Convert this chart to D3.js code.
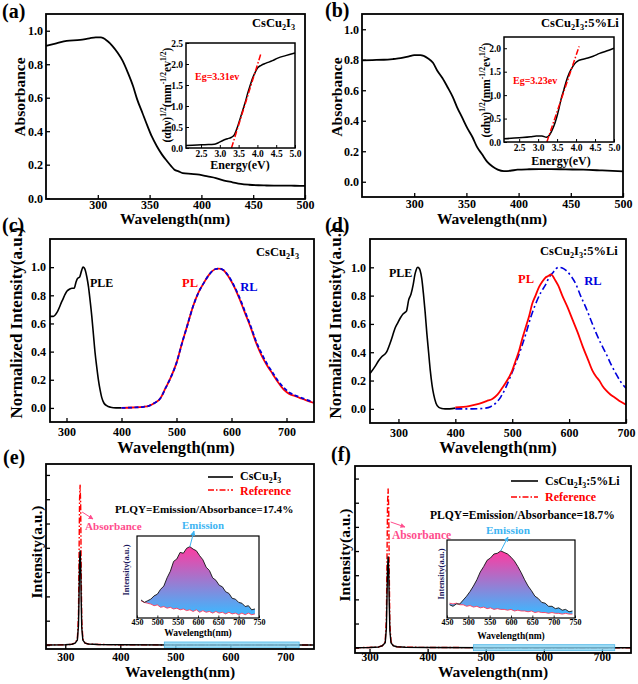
<!DOCTYPE html>
<html><head><meta charset="utf-8">
<script src="https://cdn.jsdelivr.net/npm/d3@7"></script>
<style>
body{margin:0;background:#fff}
text{font-family:"Liberation Serif","Times New Roman",serif;font-weight:bold}
</style>
</head><body><script>
// ---------- DATA ----------
// (a) absorbance CsCu2I3
const aWl  = [250,260,270,283,292,298,303,309,314,319,324,329,334,338,343,348,352,357,362,367,371,374,378,382,390,398,406,414,422,430,438,446,455,461,470,480,490,500];
const aAbs = [0.91,0.925,0.94,0.945,0.955,0.96,0.96,0.94,0.91,0.87,0.82,0.75,0.67,0.59,0.51,0.43,0.37,0.31,0.26,0.22,0.19,0.17,0.16,0.15,0.145,0.14,0.13,0.12,0.105,0.095,0.085,0.08,0.077,0.076,0.075,0.075,0.074,0.073];
const aInsE = [2.1,2.4,2.6,2.85,2.95,3.08,3.2,3.3,3.39,3.47,3.54,3.61,3.68,3.74,3.81,3.87,3.94,4.0,4.1,4.23,4.4,4.54,4.75,5.0];
const aInsV = [0.06,0.07,0.08,0.09,0.12,0.18,0.22,0.25,0.32,0.5,0.7,0.9,1.1,1.3,1.5,1.66,1.8,1.9,1.97,2.02,2.08,2.14,2.2,2.26];
const aFitE = [3.31,4.09];
const aFitV = [0,2.24];
// (b) absorbance CsCu2I3:5%Li
const bWl  = [250,260,271,280,287,295,300,306,313,318,322,327,332,337,341,346,351,356,360,365,370,375,380,386,392,399,410,420,431,445,462,480,500];
const bAbs = [0.796,0.798,0.80,0.805,0.81,0.822,0.83,0.83,0.81,0.78,0.73,0.68,0.62,0.555,0.49,0.42,0.35,0.29,0.23,0.18,0.13,0.1,0.08,0.07,0.072,0.079,0.082,0.083,0.083,0.081,0.079,0.074,0.068];
const bInsE = [2.1,2.5,2.8,2.95,3.1,3.22,3.3,3.35,3.42,3.48,3.55,3.61,3.68,3.74,3.82,3.92,4.0,4.05,4.15,4.31,4.45,4.62,4.8,5.0];
const bInsV = [0.07,0.09,0.11,0.13,0.13,0.1,0.15,0.22,0.35,0.5,0.72,0.93,1.12,1.29,1.47,1.62,1.7,1.73,1.76,1.79,1.83,1.89,1.94,2.0];
const bFitE = [3.23,4.08];
const bFitV = [0,2.04];
// (c) PLE / PL / RL CsCu2I3
const cPLEwl = [270,276,283,292,301,306,310,314,317,320,324,327,330,332,334,337,340,343,346,349,352,355,358,361,364,368,373,380,390,400];
const cPLE   = [0.65,0.65,0.68,0.76,0.83,0.845,0.85,0.85,0.89,0.92,0.93,0.97,1.0,0.995,0.98,0.93,0.86,0.76,0.65,0.52,0.39,0.29,0.2,0.13,0.075,0.035,0.016,0.005,0.0,0.0];
const cPLwl  = [400,420,440,450,460,470,480,490,500,510,520,530,540,550,560,570,577,585,595,605,615,625,635,645,655,665,675,685,695,705,715,725,735,750];
const cPL    = [0.0,0.003,0.008,0.015,0.035,0.065,0.14,0.22,0.32,0.46,0.59,0.72,0.82,0.89,0.95,0.985,0.99,0.98,0.93,0.86,0.77,0.67,0.57,0.46,0.37,0.30,0.24,0.18,0.13,0.10,0.085,0.07,0.055,0.035];
const cRL    = [0.0,0.003,0.008,0.015,0.035,0.065,0.14,0.22,0.32,0.46,0.59,0.72,0.82,0.89,0.95,0.985,0.99,0.98,0.935,0.865,0.78,0.68,0.58,0.47,0.385,0.31,0.25,0.19,0.145,0.11,0.09,0.075,0.06,0.04];
// (d) PLE / PL / RL CsCu2I3:5%Li
const dPLEwl = [250,259,265,271,279,285,290,294,299,303,308,311,314,318,322,326,329,331,334,336,338,341,344,347,350,353,356,359,362,366,371,376,382,390,400];
const dPLE   = [0.25,0.3,0.34,0.37,0.40,0.46,0.52,0.57,0.61,0.64,0.67,0.68,0.69,0.77,0.81,0.88,0.95,0.98,1.0,0.995,0.98,0.92,0.81,0.68,0.53,0.40,0.27,0.17,0.10,0.04,0.01,0.003,0.0,0.0,0.005];
const dPLwl  = [400,424,441,455,465,474,482,491,500,506,512,518,524,530,535,541,547,553,559,564,568,571,574,581,588,597,606,615,624,633,641,647,653,659,665,673,682,691,700];
const dPL    = [0.01,0.02,0.035,0.055,0.07,0.1,0.145,0.2,0.27,0.34,0.41,0.5,0.58,0.66,0.74,0.8,0.86,0.9,0.93,0.94,0.95,0.94,0.92,0.87,0.8,0.72,0.63,0.54,0.44,0.35,0.27,0.23,0.2,0.16,0.13,0.1,0.075,0.05,0.03];
const dRLwl  = [400,430,453,462,471,480,488,497,506,515,524,532,541,550,559,565,571,577,582,588,594,603,612,620,629,638,647,656,665,673,682,691,700];
const dRL    = [0.0,0.0,0.005,0.015,0.04,0.085,0.145,0.23,0.32,0.42,0.53,0.64,0.74,0.82,0.88,0.93,0.96,0.99,1.0,0.995,0.98,0.94,0.88,0.8,0.72,0.63,0.54,0.46,0.39,0.32,0.25,0.19,0.145];
// (e) PLQY CsCu2I3
const eWl     = [265,300,312,318,322,324,325,326,327,328,329,330,332,336,342,360,400,500,600,752];
const eSample = [0,0.01,0.03,0.08,0.2,0.8,2.0,3.4,3.87,3.3,1.8,0.7,0.2,0.08,0.04,0.02,0.01,0,0,0];
const eRef    = [0,0.01,0.03,0.08,0.25,1.2,3.5,6.0,6.58,5.8,3.0,1.0,0.25,0.08,0.04,0.02,0.01,0,0,0];
const eInsWl  = [460,468,476,484,492,500,508,516,524,532,540,548,556,564,572,580,588,596,604,612,620,628,636,644,652,660,668,676,684,692,700,708,716,724,732,740];
const eInsEm  = [22,19,21,23,27,29,35,39,49,57,69,72,80,79,85,87,84,82,76,71,62,58,49,46,40,38,32,30,24,23,19,18,14,15,10,11];
const eInsRef = [21,19,18,17,15,16,13,14,12,13,11,12,10,11,9,10,8,10,7,9,7,8,6,8,6,7,5,7,5,6,4,6,4,6,4,5];
// (f) PLQY CsCu2I3:5%Li
const fWl     = [275,300,316,322,327,329,330,331,332,333,334,335,337,341,347,362,400,500,600,750];
const fSample = [0,0.01,0.03,0.08,0.2,0.8,2.0,3.3,3.76,3.2,1.8,0.7,0.2,0.08,0.04,0.02,0.01,0,0,0];
const fRef    = [0,0.01,0.03,0.08,0.25,1.2,3.5,6.0,6.57,5.8,3.0,1.0,0.25,0.08,0.04,0.02,0.01,0,0,0];
const fInsWl  = [456,464,472,480,488,496,504,512,520,528,536,544,552,560,568,576,584,592,600,608,616,624,632,640,648,656,664,672,680,688,696,704,712,720,728,736,744];
const fInsEm  = [17,15,18,18,23,28,34,41,49,59,66,74,77,82,83,86,84,82,78,73,66,58,49,41,35,28,25,20,19,15,15,12,13,10,11,8,9];
const fInsRef = [19,18,19,17,17,15,16,14,15,13,14,12,13,11,12,11,11,10,11,9,10,9,9,8,9,7,8,7,7,6,7,6,6,5,6,5,5];
// emission band (nm)
const bandE = [480,725];
const bandF = [479,722];
// tick values
const absXT = [300,350,400,450,500];
const absYT = [0,0.2,0.4,0.6,0.8,1.0];
const insXT = [2.5,3.0,3.5,4.0,4.5,5.0];
const insAYT = [0,0.5,1.0,1.5,2.0,2.5];
const insBYT = [0,0.5,1.0,1.5,2.0];
const plXT = [300,400,500,600,700];
const plYT = [0,0.2,0.4,0.6,0.8,1.0];
const qyYT = [0,1,2,3,4,5,6,7];
const qyInsXT = [450,500,550,600,650,700,750];

// ---------- DRAW ----------
const svg = d3.select("body").append("svg").attr("width",638).attr("height",684);
const defs = svg.append("defs");
function marker(id,color){
  defs.append("marker").attr("id",id).attr("viewBox","0 0 10 10").attr("refX",9).attr("refY",5)
    .attr("markerWidth",5).attr("markerHeight",5).attr("orient","auto")
    .append("path").attr("d","M0,0L10,5L0,10z").attr("fill",color);
}
marker("arPink","#ff4d8d"); marker("arBlue","#3db4f2");
function grad(id){
  const g = defs.append("linearGradient").attr("id",id).attr("x1",0).attr("y1",0).attr("x2",0).attr("y2",1);
  g.append("stop").attr("offset","0%").attr("stop-color","#ff3aa0");
  g.append("stop").attr("offset","100%").attr("stop-color","#3cb8ff");
}
grad("gE"); grad("gF");

function panel(box,xd,yd,o){
  const x = d3.scaleLinear().domain(xd).range([box.l,box.r]);
  const y = d3.scaleLinear().domain(yd).range([box.b,box.t]);
  const g = svg.append("g");
  if(o.bg) g.append("rect").attr("x",box.l).attr("y",box.t).attr("width",box.r-box.l).attr("height",box.b-box.t).attr("fill","#fff");
  const gx = g.append("g").attr("transform",`translate(0,${box.b})`)
    .call(d3.axisBottom(x).tickValues(o.xt).tickSize(-o.ts).tickPadding(o.xpad).tickFormat(o.xf));
  const gy = g.append("g").attr("transform",`translate(${box.l},0)`)
    .call(d3.axisLeft(y).tickValues(o.yt).tickSize(-o.ts).tickPadding(o.ypad).tickFormat(o.yf));
  [gx,gy].forEach(a=>{a.select(".domain").remove(); a.attr("font-size",o.fs); a.selectAll("line").attr("stroke-width",o.tw||1.3);});
  const plot = g.append("g");
  const fr = ()=> g.append("rect").attr("x",box.l).attr("y",box.t).attr("width",box.r-box.l).attr("height",box.b-box.t)
      .attr("fill","none").attr("stroke","#000").attr("stroke-width",o.fw||1.8);
  return {x,y,g,plot,fr};
}
function curve(p,xs,ys,color,w,dash,smooth){
  const ln = d3.line().x(d=>p.x(d[0])).y(d=>p.y(d[1])).curve(smooth===false?d3.curveLinear:d3.curveMonotoneX);
  const path = p.plot.append("path").datum(d3.zip(xs,ys)).attr("d",ln).attr("fill","none")
    .attr("stroke",color).attr("stroke-width",w).attr("stroke-linejoin","round");
  if(dash) path.attr("stroke-dasharray",dash);
  return path;
}
function rich(x,y,parts,fs,opt={}){
  const t = svg.append("text").attr("x",x).attr("y",y).attr("font-size",fs);
  if(opt.anchor) t.attr("text-anchor",opt.anchor);
  if(opt.fill) t.attr("fill",opt.fill);
  if(opt.rot) t.attr("transform",`rotate(-90,${x},${y})`);
  let cur=0;
  parts.forEach(p=>{
    const s = typeof p==="string"?{t:p}:p;
    let sh=0,sz=fs;
    if(s.sub){sh=fs*0.22;sz=fs*0.66;}
    if(s.sup){sh=-fs*0.4;sz=fs*0.66;}
    t.append("tspan").attr("dy",sh-cur).attr("font-size",sz).text(s.t);
    cur=sh;
  });
  return t;
}
const f1 = d3.format(".1f"), fd = d3.format("d");
const CS = ["CsCu",{t:"2",sub:1},"I",{t:"3",sub:1}];
const CSLI = ["CsCu",{t:"2",sub:1},"I",{t:"3",sub:1},":5%Li"];
const YINS = ["(αhν)",{t:"1/2",sup:1},"(mm",{t:"-1/2",sup:1},"ev",{t:"1/2",sup:1},")"];

// ===== (a) =====
let A = panel({l:46,r:305,t:14,b:199},[250,500],[-0.005,1.1],{xt:absXT,yt:absYT,ts:4,xpad:1,ypad:3,xf:fd,yf:f1,fs:12});
curve(A,aWl,aAbs,"#000",1.8);
A.fr();
let AI = panel({l:186,r:295,t:43,b:148},[2.1,5.0],[0,2.5],{xt:insXT,yt:insAYT,ts:3,xpad:2,ypad:3,xf:f1,yf:f1,fs:9.5,bg:1,fw:1.5,tw:1});
curve(AI,aInsE,aInsV,"#000",1.5);
curve(AI,aFitE,aFitV,"#ff0000",1.5,"6,2,1.5,2",false);
AI.fr();
svg.append("text").attr("x",2).attr("y",18).attr("font-size",20).text("(a)");
rich(252,27,CS,12.5);
svg.append("text").attr("x",195).attr("y",80).attr("font-size",10).attr("fill","#ff0000").text("Eg=3.31ev");
svg.append("text").attr("x",240).attr("y",169).attr("font-size",12).attr("text-anchor","middle").text("Energy(eV)");
rich(171,95,YINS,11.5,{anchor:"middle",rot:1});
svg.append("text").attr("x",25).attr("y",97).attr("font-size",15.5).attr("text-anchor","middle").attr("transform","rotate(-90,25,97)").text("Absorbance");
svg.append("text").attr("x",175).attr("y",224).attr("font-size",15.5).attr("text-anchor","middle").text("Wavelength(nm)");

// ===== (b) =====
let B = panel({l:362,r:623,t:14,b:197},[250,500],[-0.1,1.1],{xt:absXT,yt:absYT,ts:4,xpad:2.5,ypad:3,xf:fd,yf:f1,fs:12});
curve(B,bWl,bAbs,"#000",1.8);
B.fr();
let BI = panel({l:504,r:614,t:37,b:142},[2.1,5.0],[0,2.24],{xt:insXT,yt:insBYT,ts:3,xpad:2.5,ypad:3,xf:f1,yf:f1,fs:9.5,bg:1,fw:1.5,tw:1});
curve(BI,bInsE,bInsV,"#000",1.5);
curve(BI,bFitE,bFitV,"#ff0000",1.5,"6,2,1.5,2",false);
BI.fr();
svg.append("text").attr("x",325).attr("y",17).attr("font-size",20).text("(b)");
rich(541,27,CSLI,12.5);
svg.append("text").attr("x",513).attr("y",84).attr("font-size",10).attr("fill","#ff0000").text("Eg=3.23ev");
svg.append("text").attr("x",561).attr("y",165).attr("font-size",12).attr("text-anchor","middle").text("Energy(eV)");
rich(490,90,YINS,11.5,{anchor:"middle",rot:1});
svg.append("text").attr("x",342).attr("y",97).attr("font-size",15.5).attr("text-anchor","middle").attr("transform","rotate(-90,342,97)").text("Absorbance");
svg.append("text").attr("x",492).attr("y",224).attr("font-size",15.5).attr("text-anchor","middle").text("Wavelength(nm)");

// ===== (c) =====
let C = panel({l:50,r:314,t:239,b:422},[270,750],[-0.1,1.2],{xt:plXT,yt:plYT,ts:4,xpad:5,ypad:4,xf:fd,yf:f1,fs:12});
curve(C,cPLEwl,cPLE,"#000",1.6);
curve(C,cPLwl,cPL,"#ff0000",1.8);
curve(C,cPLwl,cRL,"#0000dd",1.8,"4,2.5");
C.fr();
svg.append("text").attr("x",2).attr("y",232).attr("font-size",20).text("(c)");
rich(256,256,CS,12.5);
svg.append("text").attr("x",90).attr("y",287).attr("font-size",12).text("PLE");
svg.append("text").attr("x",190).attr("y",287).attr("font-size",12.5).attr("text-anchor","middle").attr("fill","#ff0000").text("PL");
svg.append("text").attr("x",249).attr("y",291).attr("font-size",12.5).attr("text-anchor","middle").attr("fill","#0000dd").text("RL");
svg.append("text").attr("x",22).attr("y",323).attr("font-size",17).attr("text-anchor","middle").attr("transform","rotate(-90,22,323)").text("Normalized Intensity(a.u.)");
svg.append("text").attr("x",176).attr("y",453).attr("font-size",16.5).attr("text-anchor","middle").text("Wavelength(nm)");

// ===== (d) =====
let D = panel({l:370,r:626,t:239,b:423},[250,700],[-0.1,1.2],{xt:plXT,yt:plYT,ts:4,xpad:5,ypad:4,xf:fd,yf:f1,fs:12});
curve(D,dPLEwl,dPLE,"#000",1.6);
curve(D,dRLwl,dRL,"#0000dd",1.6,"7,3,2,3");
curve(D,dPLwl,dPL,"#ff0000",1.8);
D.fr();
svg.append("text").attr("x",325).attr("y",232).attr("font-size",20).text("(d)");
rich(540,255,CSLI,12.5);
svg.append("text").attr("x",389).attr("y",277).attr("font-size",12).text("PLE");
svg.append("text").attr("x",526).attr("y",283).attr("font-size",12.5).attr("text-anchor","middle").attr("fill","#ff0000").text("PL");
svg.append("text").attr("x",593).attr("y",285).attr("font-size",12.5).attr("text-anchor","middle").attr("fill","#0000dd").text("RL");
svg.append("text").attr("x",341).attr("y",323).attr("font-size",17).attr("text-anchor","middle").attr("transform","rotate(-90,341,323)").text("Normalized Intensity(a.u.)");
svg.append("text").attr("x",498).attr("y",453).attr("font-size",16.5).attr("text-anchor","middle").text("Wavelength(nm)");

// ===== (e) / (f) =====
function qy(box,xd,yd,wl,sam,ref,band,pad,ins,insData,gid){
  const P = panel(box,xd,yd,{xt:plXT,yt:qyYT,ts:4,xpad:pad,ypad:3,xf:fd,yf:()=>"",fs:11.5});
  curve(P,wl,ref,"#ff0000",1.4,"6,2,1.5,2",false);
  curve(P,wl,sam,"#000",1.4,null,false);
  P.plot.append("rect").attr("x",P.x(band[0])).attr("y",P.y(0)-3).attr("width",P.x(band[1])-P.x(band[0])).attr("height",6)
    .attr("fill","#86d3f3").attr("fill-opacity",0.8).attr("stroke","#4fb8e8").attr("stroke-width",0.8);
  P.fr();
  const I = panel(ins,[450,750],[0,100],{xt:qyInsXT,yt:[],ts:2.5,xpad:1.5,ypad:2,xf:fd,yf:()=>"",fs:8,bg:1,fw:1.2,tw:0.8});
  const [iw,iem,iref] = insData;
  const area = d3.area().x(d=>I.x(d[0])).y0(d=>I.y(d[2])).y1(d=>I.y(d[1]));
  I.plot.append("path").datum(d3.zip(iw,iem,iref)).attr("d",area).attr("fill",`url(#${gid})`);
  curve(I,iw,iref,"#ff3b5c",0.9,null,false);
  curve(I,iw,iem,"#111",0.9,null,false);
  I.fr();
  return {P,I};
}
const E = qy({l:46,r:314,t:464,b:649},[265,752],[-0.165,7.45],eWl,eSample,eRef,bandE,3.5,{l:137,r:259,t:536,b:618},[eInsWl,eInsEm,eInsRef],"gE");
const F = qy({l:355,r:631,t:466,b:653},[275,750],[-0.22,7.52],fWl,fSample,fRef,bandF,0,{l:447,r:575,t:540,b:618},[fInsWl,fInsEm,fInsRef],"gF");

// (e) labels
svg.append("text").attr("x",3).attr("y",464).attr("font-size",20).text("(e)");
svg.append("line").attr("x1",208).attr("x2",233).attr("y1",477).attr("y2",477).attr("stroke","#000").attr("stroke-width",1.6);
svg.append("line").attr("x1",208).attr("x2",233).attr("y1",490).attr("y2",490).attr("stroke","#ff0000").attr("stroke-width",1.6).attr("stroke-dasharray","6,2,1.5,2");
rich(240,480,CS,12);
svg.append("text").attr("x",240).attr("y",495).attr("font-size",12).attr("fill","#ff0000").text("Reference");
svg.append("text").attr("x",115).attr("y",513).attr("font-size",11.2).text("PLQY=Emission/Absorbance=17.4%");
svg.append("text").attr("x",85).attr("y",530).attr("font-size",11.1).attr("fill","#ff4d8d").text("Absorbance");
svg.append("text").attr("x",203).attr("y",529).attr("font-size",10.8).attr("text-anchor","middle").attr("fill","#3db4f2").text("Emission");
svg.append("line").attr("x1",E.P.x(327)+2).attr("y1",512).attr("x2",93).attr("y2",519).attr("stroke","#ff4d8d").attr("stroke-width",1).attr("marker-end","url(#arPink)");
svg.append("line").attr("x1",E.I.x(580)).attr("y1",E.I.y(87)).attr("x2",194).attr("y2",531).attr("stroke","#3db4f2").attr("stroke-width",1).attr("marker-end","url(#arBlue)");
svg.append("text").attr("x",129).attr("y",570).attr("font-size",8.5).attr("fill","#1e1a5e").attr("text-anchor","middle").attr("transform","rotate(-90,129,570)").text("Intensity(a.u.)");
svg.append("text").attr("x",198).attr("y",636).attr("font-size",9.5).attr("text-anchor","middle").text("Wavelength(nm)");
svg.append("text").attr("x",42).attr("y",552).attr("font-size",15.5).attr("text-anchor","middle").attr("transform","rotate(-90,42,552)").text("Intensity(a.u.)");
svg.append("text").attr("x",180).attr("y",677).attr("font-size",15.5).attr("text-anchor","middle").text("Wavelength(nm)");

// (f) labels
svg.append("text").attr("x",331).attr("y",461).attr("font-size",20).text("(f)");
svg.append("line").attr("x1",511).attr("x2",538).attr("y1",481).attr("y2",481).attr("stroke","#000").attr("stroke-width",1.6);
svg.append("line").attr("x1",511).attr("x2",538).attr("y1",497).attr("y2",497).attr("stroke","#ff0000").attr("stroke-width",1.6).attr("stroke-dasharray","6,2,1.5,2");
rich(545,485,CSLI,12);
svg.append("text").attr("x",545).attr("y",501).attr("font-size",12).attr("fill","#ff0000").text("Reference");
svg.append("text").attr("x",430).attr("y",519).attr("font-size",11.6).text("PLQY=Emission/Absorbance=18.7%");
svg.append("text").attr("x",392).attr("y",539).attr("font-size",11.6).attr("fill","#ff4d8d").text("Absorbance");
svg.append("text").attr("x",508).attr("y",534).attr("font-size",11.3).attr("text-anchor","middle").attr("fill","#3db4f2").text("Emission");
svg.append("line").attr("x1",F.P.x(333)+2).attr("y1",522).attr("x2",405).attr("y2",527).attr("stroke","#ff4d8d").attr("stroke-width",1).attr("marker-end","url(#arPink)");
svg.append("line").attr("x1",F.I.x(576)).attr("y1",F.I.y(86)).attr("x2",508).attr("y2",537).attr("stroke","#3db4f2").attr("stroke-width",1).attr("marker-end","url(#arBlue)");
svg.append("text").attr("x",444).attr("y",574).attr("font-size",8.5).attr("fill","#1e1a5e").attr("text-anchor","middle").attr("transform","rotate(-90,444,574)").text("Intensity(a.u.)");
svg.append("text").attr("x",511).attr("y",639).attr("font-size",9.5).attr("text-anchor","middle").text("Wavelength(nm)");
svg.append("text").attr("x",350).attr("y",555).attr("font-size",15.5).attr("text-anchor","middle").attr("transform","rotate(-90,350,555)").text("Intensity(a.u.)");
svg.append("text").attr("x",493).attr("y",677).attr("font-size",15.5).attr("text-anchor","middle").text("Wavelength(nm)");
</script></body></html>
